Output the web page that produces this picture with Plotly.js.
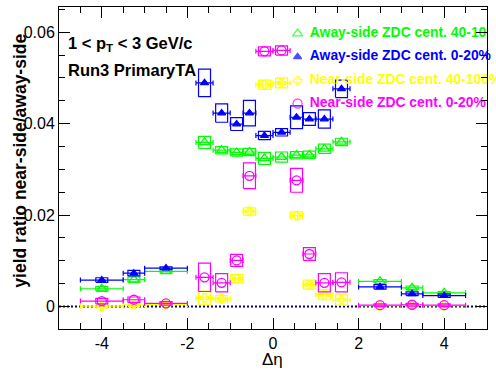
<!DOCTYPE html>
<html><head><meta charset="utf-8">
<script src="https://cdn.plot.ly/plotly-3.0.1.min.js"></script>
<style>html,body{margin:0;padding:0;background:#fff}#chart{width:496px;height:374px}</style>
</head><body><div id="chart"></div>
<script>
// ---- data ----
const deltaEta    = [-4, -3.25, -2.5, -1.6, -1.2, -0.85, -0.55, -0.2, 0.2, 0.55, 0.85, 1.2, 1.6, 2.5, 3.25, 4];
const deltaEtaErr = [0.5, 0.25, 0.5, 0.2, 0.2, 0.15, 0.15, 0.2, 0.2, 0.15, 0.15, 0.2, 0.2, 0.5, 0.25, 0.5];

const awayPeri    = [0.0039, 0.0059, 0.0077, 0.0359, 0.0342, 0.0337, 0.0338, 0.0324, 0.0327, 0.0331, 0.0332, 0.0345, 0.0360, 0.0055, 0.0041, 0.0030];
const awayPeriSys = [0.0005, 0.0006, 0.0004, 0.0013, 0.0008, 0.0008, 0.0008, 0.0013, 0.0011, 0.0008, 0.0008, 0.0010, 0.0008, 0.0004, 0.0004, 0.0003];

const awayCent    = [0.0058, 0.0073, 0.0084, 0.0489, 0.0423, 0.0399, 0.0423, 0.0374, 0.0381, 0.0414, 0.0410, 0.0410, 0.0476, 0.0043, 0.0028, 0.0024];
const awayCentSys = [0.0005, 0.0006, 0.0003, 0.0030, 0.0020, 0.0014, 0.0028, 0.0009, 0.0008, 0.0025, 0.0014, 0.0020, 0.0019, 0.0005, 0.0004, 0.0004];

const nearPeri    = [0.0001, 0.0004, 0.0005, 0.0019, 0.0017, 0.0061, 0.0208, 0.0485, 0.0489, 0.0199, 0.0048, 0.0026, 0.0015, 0.0002, 0.0003, 0.0002];
const nearPeriSys = [0.0004, 0.0004, 0.0003, 0.0015, 0.0007, 0.0009, 0.0008, 0.0010, 0.0011, 0.0008, 0.0010, 0.0011, 0.0012, 0.0003, 0.0003, 0.0002];

const nearCent    = [0.0012, 0.0015, 0.0007, 0.0064, 0.0052, 0.0101, 0.0286, 0.0558, 0.0560, 0.0276, 0.0115, 0.0052, 0.0053, 0.0003, 0.0004, 0.0003];
const nearCentSys = [0.0006, 0.0006, 0.0004, 0.0031, 0.0020, 0.0013, 0.0028, 0.0010, 0.0010, 0.0026, 0.0014, 0.0020, 0.0021, 0.0003, 0.0003, 0.0003];

const seriesNames = ['Away-side ZDC cent. 40-100%', 'Away-side ZDC cent. 0-20%', 'Near-side ZDC cent. 40-100%', 'Near-side ZDC cent. 0-20%'];
const xTickVals = [-4, -2, 0, 2, 4];
const xTickText = ['-4', '-2', '0', '2', '4'];
const yTickVals = [0, 0.02, 0.04, 0.06];
const yTickText = ['0', '0.02', '0.04', '0.06'];

// ---- styles ----
const FONT = 'Liberation Sans, Arial, Helvetica, sans-serif';
const series = [
  {y: awayPeri, sys: awayPeriSys, color: '#00ff00', symbol: 'triangle-up-open', size: 9},
  {y: awayCent, sys: awayCentSys, color: '#0000ff', symbol: 'triangle-up', size: 7},
  {y: nearPeri, sys: nearPeriSys, color: '#ffff00', symbol: 'cross-open', size: 7},
  {y: nearCent, sys: nearCentSys, color: '#ff00ff', symbol: 'circle-open', size: 9}
];
const boxHalf = 0.14;

const traces = [];
series.forEach((s, k) => {
  // systematic boxes
  const bx = [], by = [];
  deltaEta.forEach((x, i) => {
    const lo = s.y[i] - s.sys[i], hi = s.y[i] + s.sys[i];
    bx.push(x - boxHalf, x + boxHalf, x + boxHalf, x - boxHalf, x - boxHalf, null);
    by.push(lo, lo, hi, hi, lo, null);
  });
  traces.push({type: 'scatter', mode: 'lines', x: bx, y: by, line: {color: s.color, width: 1.2}, hoverinfo: 'skip', showlegend: false});
  // points with horizontal error bars
  traces.push({
    type: 'scatter', mode: 'markers', x: deltaEta, y: s.y, name: seriesNames[k],
    marker: {symbol: s.symbol, size: s.size, color: s.color, line: {color: s.color, width: 1.3}},
    error_x: {type: 'data', array: deltaEtaErr, visible: true, color: s.color, thickness: 1.2, width: 2.5},
    showlegend: false
  });
});

// legend drawn inside the frame
const legX = 0.575, legTextX = 0.86;
const legY = [0.0597, 0.0546, 0.0494, 0.0444];
traces.push({
  type: 'scatter', mode: 'markers', x: legY.map(() => legX), y: legY,
  marker: {symbol: series.map(s => s.symbol), size: series.map(s => s.size), color: series.map(s => s.color),
           line: {color: series.map(s => s.color), width: 1.3}},
  hoverinfo: 'skip', showlegend: false
});
// first entry is cut at the frame in the original, the others run past it
traces.push({
  type: 'scatter', mode: 'text', x: [legTextX], y: [legY[0]],
  text: ['<b>' + seriesNames[0] + '</b>'], textposition: 'middle right',
  textfont: {family: FONT, size: 13.9, color: series[0].color},
  cliponaxis: true, hoverinfo: 'skip', showlegend: false
});
traces.push({
  type: 'scatter', mode: 'text', x: legY.slice(1).map(() => legTextX), y: legY.slice(1),
  text: seriesNames.slice(1).map(n => '<b>' + n + '</b>'), textposition: 'middle right',
  textfont: {family: FONT, size: 13.9, color: series.slice(1).map(s => s.color)},
  cliponaxis: false, hoverinfo: 'skip', showlegend: false
});

const axisCommon = {
  ticks: 'inside', ticklen: 11, tickwidth: 1, tickcolor: 'black',
  showline: true, linecolor: 'black', linewidth: 1, mirror: 'allticks',
  showgrid: false, zeroline: false,
  tickfont: {family: FONT, size: 16, color: 'black'}
};

const layout = {
  width: 496, height: 374,
  margin: {l: 59, r: 9, t: 7, b: 45},
  paper_bgcolor: 'white', plot_bgcolor: 'white',
  showlegend: false,
  font: {family: FONT, color: 'black'},
  xaxis: Object.assign({}, axisCommon, {
    range: [-5, 5], tickmode: 'array', tickvals: xTickVals, ticktext: xTickText,
    minor: {dtick: 0.5, tick0: 0, ticks: 'inside', ticklen: 6, tickcolor: 'black', showgrid: false}
  }),
  yaxis: Object.assign({}, axisCommon, {
    range: [-0.0049, 0.0655], tickmode: 'array', tickvals: yTickVals, ticktext: yTickText,
    minor: {dtick: 0.005, tick0: 0, ticks: 'inside', ticklen: 6, tickcolor: 'black', showgrid: false}
  }),
  shapes: [{type: 'line', xref: 'paper', x0: 0, x1: 1, yref: 'y', y0: 0, y1: 0,
            line: {color: '#000080', width: 2, dash: '2px,2px'}, layer: 'below'}],
  annotations: [
    {xref: 'paper', yref: 'paper', x: 0.0164, y: 0.885, xanchor: 'left', yanchor: 'middle', showarrow: false,
     text: '<b>1 < p<sub>T</sub> < 3 GeV/c</b>', font: {family: FONT, size: 16.5, color: 'black'}},
    {xref: 'paper', yref: 'paper', x: 0.0164, y: 0.805, xanchor: 'left', yanchor: 'middle', showarrow: false,
     text: '<b>Run3 PrimaryTA</b>', font: {family: FONT, size: 16.5, color: 'black'}},
    {xref: 'paper', yref: 'paper', x: -0.091, y: 0.523, xanchor: 'center', yanchor: 'middle', showarrow: false,
     textangle: -90, text: '<b>yield ratio near-side/away-side</b>', font: {family: FONT, size: 17.5, color: 'black'}},
    {xref: 'paper', yref: 'paper', x: 0.4988, y: -0.095, xanchor: 'center', yanchor: 'middle', showarrow: false,
     text: 'Δη', font: {family: FONT, size: 17, color: 'black'}}
  ]
};

Plotly.newPlot('chart', traces, layout, {staticPlot: true, displayModeBar: false});
</script>
</body></html>
